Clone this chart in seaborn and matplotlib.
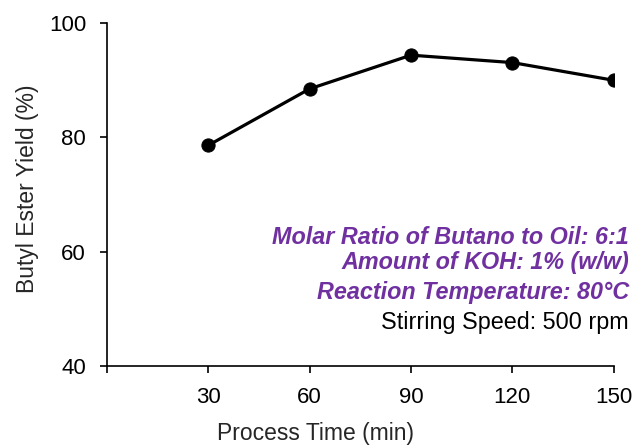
import matplotlib
matplotlib.use("Agg")
import matplotlib.pyplot as plt
import seaborn as sns
import pandas as pd

process_time = [30, 60, 90, 120, 150]
yield_pct = [78.6, 88.5, 94.4, 93.1, 90.0]
x_ticks = [0, 30, 60, 90, 120, 150]
x_tick_labels = ["", "30", "60", "90", "120", "150"]
y_ticks = [40, 60, 80, 100]
notes_purple = ["Molar Ratio of Butano to Oil: 6:1",
                "Amount of KOH: 1% (w/w)",
                "Reaction Temperature: 80°C"]
note_black = "Stirring Speed: 500 rpm"

sns.set_style("ticks")
plt.rcParams["font.family"] = ["Liberation Sans", "DejaVu Sans"]

df = pd.DataFrame({"time": process_time, "yield": yield_pct})

fig = plt.figure(figsize=(6.44, 4.46), dpi=100)
ax = fig.add_axes([0.166, 0.180, 0.787, 0.768])
sns.lineplot(data=df, x="time", y="yield", ax=ax, color="black",
             linewidth=2.3, marker="o", markersize=9.5, markeredgecolor="black")

ax.set_xlim(0, 150)
ax.set_ylim(40, 100)
ax.set_xticks(x_ticks)
ax.set_xticklabels(x_tick_labels)
ax.set_yticks(y_ticks)
ax.tick_params(axis="both", labelsize=16, length=5, width=1.2, colors="black",
               direction="out")
ax.tick_params(axis="x", pad=10)
ax.tick_params(axis="y", pad=10)
for s in ["top", "right"]:
    ax.spines[s].set_visible(False)
for s in ["left", "bottom"]:
    ax.spines[s].set_linewidth(1.2)
    ax.spines[s].set_color("black")

ax.set_xlabel("Process Time (min)", fontsize=16.5)
ax.xaxis.set_label_coords(0.412, -0.199)
ax.xaxis.label.set_va("center")
ax.set_ylabel("Butyl Ester Yield (%)", fontsize=16.5)
ax.yaxis.set_label_coords(-0.156, 0.518)
ax.yaxis.label.set_va("center")
ax.yaxis.label.set_ha("center")

ys = [237, 263, 292]
for txt, yp in zip(notes_purple, ys):
    fig.text(629 / 644, 1 - yp / 446, txt, ha="right", va="center",
             fontsize=16.8, color="#7030A0", fontweight="bold", fontstyle="italic")
fig.text(629 / 644, 1 - 323 / 446, note_black, ha="right", va="center",
         fontsize=16.8, color="black")

fig.savefig("out.png", dpi=100)
